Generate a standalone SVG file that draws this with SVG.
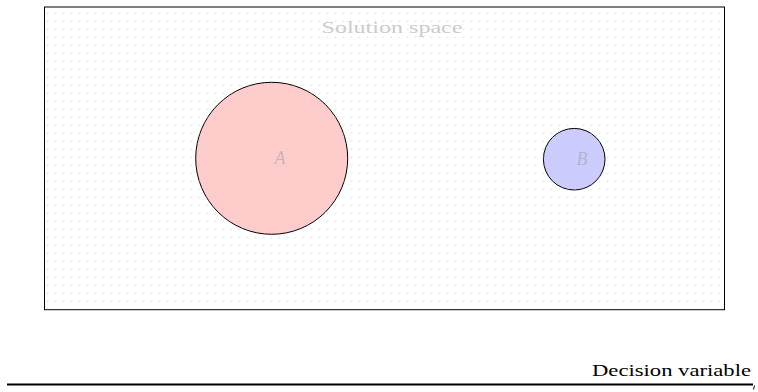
<svg xmlns="http://www.w3.org/2000/svg" width="758" height="392" viewBox="0 0 758 392">
<style>
text{font-family:'Liberation Serif','DejaVu Serif',serif}
.node{stroke:#000;stroke-width:1}
</style>
<defs>
<pattern id="dots" x="47.3" y="13.3" width="8" height="8" patternUnits="userSpaceOnUse">
<circle cx="0" cy="0" r="0.85" fill="#c8c8c8" fill-opacity="0.6"/>
<circle cx="8" cy="0" r="0.85" fill="#c8c8c8" fill-opacity="0.6"/>
<circle cx="0" cy="8" r="0.85" fill="#c8c8c8" fill-opacity="0.6"/>
<circle cx="8" cy="8" r="0.85" fill="#c8c8c8" fill-opacity="0.6"/>
</pattern>
</defs>
<rect width="758" height="392" fill="#fff"/>
<g id="space">
<rect x="44.5" y="7" width="680" height="302.7" fill="#fff" stroke="#000" stroke-width="1"/>
<text x="392" y="33" font-size="17" fill="#cccccc" text-anchor="middle" textLength="141" lengthAdjust="spacingAndGlyphs">Solution space</text>
</g>
<g id="A">
<circle class="node" cx="271.7" cy="158.3" r="76" fill="#ffcccc"/>
<text x="280" y="164" font-size="18" font-style="italic" fill="#999" fill-opacity="0.5" text-anchor="middle">A</text>
</g>
<g id="B">
<circle class="node" cx="574.2" cy="159.2" r="30.8" fill="#ccccff"/>
<text x="582" y="165" font-size="18" font-style="italic" fill="#999" fill-opacity="0.5" text-anchor="middle">B</text>
</g>
<rect x="45" y="7.5" width="679" height="301.7" fill="url(#dots)"/>
<g id="connectors">
<line x1="7" y1="384.5" x2="753" y2="384.5" stroke="#000" stroke-width="2"/>
<line x1="754.5" y1="385.5" x2="753.5" y2="389.5" stroke="#000" stroke-width="1"/>
<text x="751" y="376" font-size="17" fill="#000" text-anchor="end" textLength="159" lengthAdjust="spacingAndGlyphs">Decision variable</text>
</g>
</svg>
